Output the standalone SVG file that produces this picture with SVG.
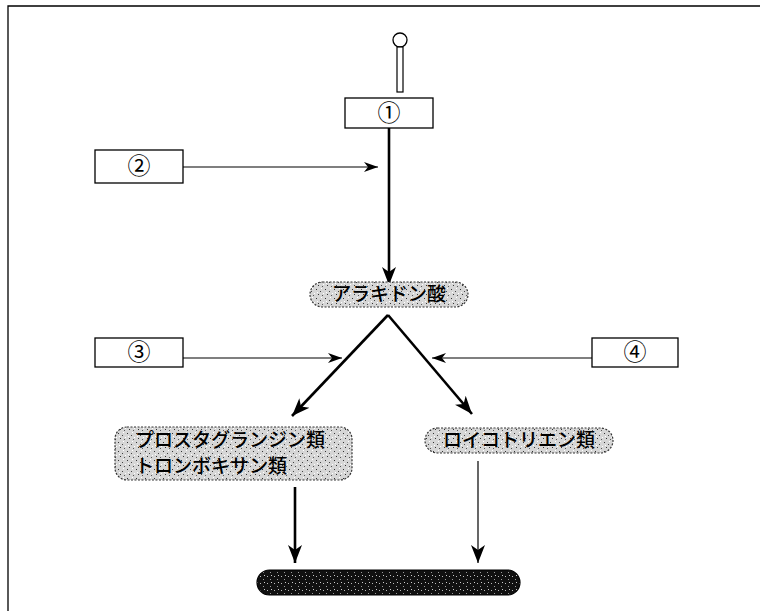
<svg xmlns="http://www.w3.org/2000/svg" width="760" height="611" viewBox="0 0 760 611">
<style>
.box{fill:#fff;stroke:#000;stroke-width:1.3}
.num{font-family:"Noto Sans CJK JP",sans-serif;font-size:23px;text-anchor:middle;fill:#000}
.lbl{font-family:"Noto Sans CJK JP",sans-serif;font-size:19px;font-weight:500;fill:#000}
.pill{fill:url(#stip);stroke:#333;stroke-width:1.2;stroke-dasharray:2 1.5}
.thin{stroke:#000;stroke-width:1.2;fill:none}
.thick{stroke:#000;stroke-width:2.6;fill:none}
</style>
<defs>
<pattern id="stip" width="9" height="9" patternUnits="userSpaceOnUse">
<rect width="9" height="9" fill="#d6d6d6"/>
<rect x="1" y="1" width="1" height="1" fill="#333"/>
<rect x="5" y="3" width="1" height="1" fill="#444"/>
<rect x="3" y="6" width="1" height="1" fill="#333"/>
<rect x="7" y="7" width="1" height="1" fill="#555"/>
<rect x="6" y="0" width="1" height="1" fill="#fff"/>
<rect x="2" y="4" width="1" height="1" fill="#fff"/>
<rect x="8" y="5" width="1" height="1" fill="#fff"/>
</pattern>
<pattern id="dark" width="7" height="7" patternUnits="userSpaceOnUse">
<rect width="7" height="7" fill="#111"/>
<rect x="1" y="2" width="1" height="1" fill="#bbb"/>
<rect x="4" y="5" width="1" height="1" fill="#999"/>
<rect x="5" y="1" width="1" height="1" fill="#ccc"/>
</pattern>
<marker id="ahThin" markerUnits="userSpaceOnUse" markerWidth="16" markerHeight="12" refX="14" refY="6" orient="auto">
<path d="M0,1 L14,6 L0,11 L4,6 Z" fill="#000"/>
</marker>
<marker id="ahThick" markerUnits="userSpaceOnUse" markerWidth="20" markerHeight="16" refX="18" refY="8" orient="auto">
<path d="M0,1 L18,8 L0,15 L5,8 Z" fill="#000"/>
</marker>
</defs>
<g id="frame" fill="none" stroke="#000" stroke-width="1.3">
<path d="M8,611 L8,6 L760,6"/>
</g>
<g id="connectors">
<line class="thick" x1="389" y1="128" x2="389" y2="285" marker-end="url(#ahThick)"/>
<line class="thin" x1="183" y1="167" x2="378" y2="167" marker-end="url(#ahThin)"/>
<line class="thick" x1="388" y1="315" x2="292" y2="416" marker-end="url(#ahThick)"/>
<line class="thick" x1="388" y1="315" x2="472" y2="414" marker-end="url(#ahThick)"/>
<line class="thin" x1="183" y1="358" x2="342" y2="358" marker-end="url(#ahThin)"/>
<line class="thin" x1="592" y1="358" x2="432" y2="358" marker-end="url(#ahThin)"/>
<line class="thick" x1="295" y1="487" x2="295" y2="563" marker-end="url(#ahThick)"/>
<line class="thin" x1="478" y1="461" x2="478" y2="563" marker-end="url(#ahThick)"/>
</g>
<g id="node1">
<circle cx="400" cy="40" r="7" fill="#fff" stroke="#000" stroke-width="1.3"/>
<rect x="397" y="47" width="6" height="45" fill="#fff" stroke="#000" stroke-width="1.2"/>
<rect class="box" x="345" y="98" width="88" height="30"/>
<text class="num" x="389" y="121">①</text>
</g>
<g id="node2">
<rect class="box" x="95" y="150" width="88" height="33"/>
<text class="num" x="139" y="174">②</text>
</g>
<g id="node3">
<rect class="box" x="95" y="338" width="88" height="29"/>
<text class="num" x="139" y="360">③</text>
</g>
<g id="node4">
<rect class="box" x="592" y="338" width="86" height="29"/>
<text class="num" x="635" y="360">④</text>
</g>
<g id="arachidonic">
<rect class="pill" x="310" y="282" width="158" height="25" rx="12.5"/>
<text class="lbl" x="389" y="301" text-anchor="middle">アラキドン酸</text>
</g>
<g id="prostaglandins">
<rect class="pill" x="115" y="427" width="237" height="53" rx="12"/>
<text class="lbl" x="135" y="447">プロスタグランジン類</text>
<text class="lbl" x="135" y="473">トロンボキサン類</text>
</g>
<g id="leukotrienes">
<rect class="pill" x="425" y="428" width="188" height="25" rx="12.5"/>
<text class="lbl" x="519" y="447" text-anchor="middle">ロイコトリエン類</text>
</g>
<g id="result">
<rect x="257" y="570" width="263" height="25" rx="12.5" fill="url(#dark)" stroke="#000" stroke-width="1.2"/>
</g>
</svg>
